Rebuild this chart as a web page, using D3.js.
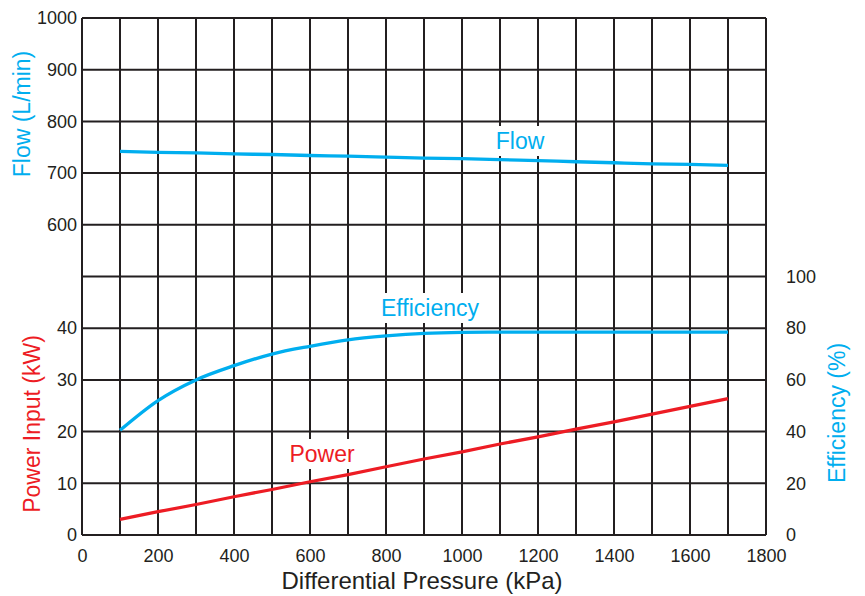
<!DOCTYPE html>
<html>
<head>
<meta charset="utf-8">
<script src="https://cdn.jsdelivr.net/npm/d3@7"></script>
<style>
  body { margin: 0; background: #fff; }
  svg { display: block; font-family: "Liberation Sans", Arial, Helvetica, sans-serif; }
</style>
</head>
<body>
<svg id="chart"></svg>
<script>
// values
const pressure = [100, 200, 300, 400, 500, 600, 700, 800, 900, 1000, 1100, 1200, 1300, 1400, 1500, 1600, 1700];
const flow = [742, 740, 739, 737, 736, 734, 733, 731, 729, 728, 726, 724, 722, 720, 718, 717, 715];
const efficiency = [40.5, 52, 60, 65.5, 70, 73, 75.5, 77, 78, 78.4, 78.5, 78.5, 78.5, 78.5, 78.5, 78.5, 78.5];
const power = [3, 4.5, 5.9, 7.4, 8.8, 10.3, 11.7, 13.2, 14.7, 16.1, 17.6, 19, 20.5, 21.9, 23.4, 24.9, 26.4];

const xTicks = [0, 200, 400, 600, 800, 1000, 1200, 1400, 1600, 1800];
const flowTicks = [600, 700, 800, 900, 1000];
const powerTicks = [0, 10, 20, 30, 40];
const effTicks = [0, 20, 40, 60, 80, 100];

const width = 865, height = 596;
const blue = "#00aeef", red = "#ed1c24", ink = "#231f20";

const svg = d3.select("#chart").attr("width", width).attr("height", height);

const x = d3.scaleLinear().domain([0, 1800]).range([82, 766]);
const yFlow = d3.scaleLinear().domain([500, 1000]).range([276.5, 18]);
const yPow = d3.scaleLinear().domain([0, 50]).range([535, 276.5]);
const yEff = d3.scaleLinear().domain([0, 100]).range([535, 276.5]);

// grid
const grid = svg.append("g").attr("stroke", ink).attr("stroke-width", 2);
grid.selectAll(".v").data(d3.range(0, 1801, 100)).join("line")
  .attr("x1", d => x(d)).attr("x2", d => x(d))
  .attr("y1", yFlow(1000)).attr("y2", yPow(0));
grid.selectAll(".hf").data(d3.range(500, 1001, 100)).join("line")
  .attr("x1", x(0)).attr("x2", x(1800))
  .attr("y1", d => yFlow(d)).attr("y2", d => yFlow(d));
grid.selectAll(".hp").data(d3.range(0, 50, 10)).join("line")
  .attr("x1", x(0)).attr("x2", x(1800))
  .attr("y1", d => yPow(d)).attr("y2", d => yPow(d));

// axes (labels only)
const fmt = d3.format("d");
function styleAxis(g) {
  g.select(".domain").remove();
  g.selectAll("line").remove();
  g.selectAll("text").attr("font-size", 18).attr("fill", ink)
    .attr("font-family", "'Liberation Sans', Arial, sans-serif");
}
svg.append("g").attr("transform", `translate(${x(0)},0)`)
  .call(d3.axisLeft(yFlow).tickValues(flowTicks).tickFormat(fmt).tickSize(0).tickPadding(5)).call(styleAxis);
svg.append("g").attr("transform", `translate(${x(0)},0)`)
  .call(d3.axisLeft(yPow).tickValues(powerTicks).tickFormat(fmt).tickSize(0).tickPadding(5)).call(styleAxis);
svg.append("g").attr("transform", `translate(${x(1800)},0)`)
  .call(d3.axisRight(yEff).tickValues(effTicks).tickFormat(fmt).tickSize(0).tickPadding(20)).call(styleAxis);
svg.append("g").attr("transform", `translate(0,${yPow(0)})`)
  .call(d3.axisBottom(x).tickValues(xTicks).tickFormat(fmt).tickSize(0).tickPadding(14)).call(styleAxis);

// labels on the curves (white boxes under text)
function label(text, cx, baseline, color) {
  const g = svg.append("g");
  const t = g.append("text").attr("x", cx).attr("y", baseline)
    .attr("text-anchor", "middle").attr("font-size", 23).attr("fill", color).text(text);
  const b = t.node().getBBox();
  g.insert("rect", "text").attr("x", b.x - 4).attr("y", b.y - 2)
    .attr("width", b.width + 8).attr("height", b.height + 4).attr("fill", "#fff");
}
label("Flow", 520, 149, blue);
label("Efficiency", 430, 316, blue);
label("Power", 322, 462, red);

// curves
const lineFlow = d3.line().x((d, i) => x(pressure[i])).y(d => yFlow(d)).curve(d3.curveMonotoneX);
const lineEff = d3.line().x((d, i) => x(pressure[i])).y(d => yEff(d)).curve(d3.curveMonotoneX);
const linePow = d3.line().x((d, i) => x(pressure[i])).y(d => yPow(d));

svg.append("path").attr("d", lineFlow(flow)).attr("fill", "none").attr("stroke", blue).attr("stroke-width", 3.3);
svg.append("path").attr("d", lineEff(efficiency)).attr("fill", "none").attr("stroke", blue).attr("stroke-width", 3.3);
svg.append("path").attr("d", linePow(power)).attr("fill", "none").attr("stroke", red).attr("stroke-width", 3.3);

// axis titles
function vtitle(text, cx, cy, color) {
  svg.append("text").attr("transform", `translate(${cx},${cy}) rotate(-90)`)
    .attr("text-anchor", "middle").attr("dy", "0.35em")
    .attr("font-size", 23).attr("fill", color).text(text);
}
vtitle("Flow (L/min)", 22, 114, blue);
vtitle("Power Input (kW)", 32, 424, red);
vtitle("Efficiency (%)", 837, 413, blue);

svg.append("text").attr("x", 422).attr("y", 589).attr("text-anchor", "middle")
  .attr("font-size", 24).attr("fill", ink).text("Differential Pressure (kPa)");
</script>
</body>
</html>
